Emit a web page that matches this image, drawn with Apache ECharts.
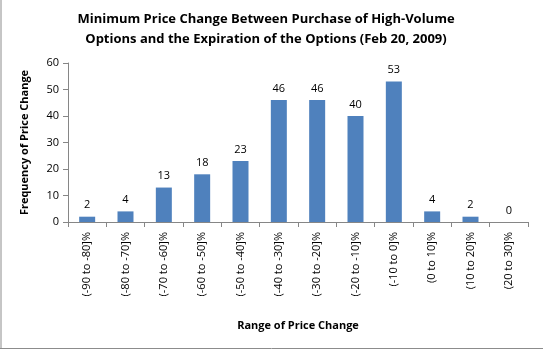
<!DOCTYPE html>
<html>
<head>
<meta charset="utf-8">
<script src="https://cdn.jsdelivr.net/npm/echarts@6/dist/echarts.min.js"></script>
<style>
html, body { margin: 0; padding: 0; background: #fff; }
#chart { width: 543px; height: 350px; }
</style>
</head>
<body>
<div id="chart"></div>
<script>
var categories = ['(-90 to -80]%', '(-80 to -70]%', '(-70 to -60]%', '(-60 to -50]%',
    '(-50 to -40]%', '(-40 to -30]%', '(-30 to -20]%', '(-20 to -10]%',
    '(-10 to 0]%', '(0 to 10]%', '(10 to 20]%', '(20 to 30]%'];
var frequency = [2, 4, 13, 18, 23, 46, 46, 40, 53, 4, 2, 0];
var yTicks = [0, 10, 20, 30, 40, 50, 60];

var myChart = echarts.init(document.getElementById('chart'));
var font = 'Open Sans, Noto Sans, sans-serif';

var option = {
    animation: false,
    textStyle: { fontFamily: font },
    title: {
        text: 'Minimum Price Change Between Purchase of High-Volume\nOptions and the Expiration of the Options (Feb 20, 2009)',
        left: 261,
        top: 4,
        textAlign: 'center',
        textStyle: { fontSize: 13, fontWeight: 'bold', color: '#000', lineHeight: 20, fontFamily: font }
    },
    graphic: [
        { type: 'line', shape: { x1: 1, y1: 0, x2: 1, y2: 348 }, style: { stroke: '#8c8c8c', lineWidth: 1 } },
        { type: 'line', shape: { x1: 0, y1: 348.5, x2: 543, y2: 348.5 }, style: { stroke: '#8c8c8c', lineWidth: 1 } }
    ],
    grid: { left: 68, right: 15, top: 63, bottom: 128 },
    xAxis: {
        type: 'category',
        data: categories,
        name: 'Range of Price Change',
        nameLocation: 'middle',
        nameGap: 98,
        nameTextStyle: { fontSize: 11, fontWeight: 'bold', color: '#000' },
        axisLine: { lineStyle: { color: '#868686' } },
        axisTick: { show: true, alignWithLabel: false, length: 5, lineStyle: { color: '#868686' } },
        axisLabel: { rotate: 90, fontSize: 11, color: '#000', margin: 10, interval: 0 }
    },
    yAxis: {
        type: 'value',
        min: yTicks[0],
        max: yTicks[yTicks.length - 1],
        interval: 10,
        name: 'Frequency of Price Change',
        nameLocation: 'middle',
        nameGap: 38,
        nameTextStyle: { fontSize: 11, fontWeight: 'bold', color: '#000' },
        axisLine: { show: true, lineStyle: { color: '#868686' } },
        axisTick: { show: true, length: 5, lineStyle: { color: '#868686' } },
        splitLine: { show: false },
        axisLabel: { fontSize: 11, color: '#000', margin: 9 }
    },
    series: [{
        type: 'bar',
        data: frequency,
        barWidth: 16,
        itemStyle: { color: '#4f81bd' },
        label: { show: true, position: 'top', distance: 6, fontSize: 11, color: '#000' }
    }]
};

myChart.setOption(option);
</script>
</body>
</html>
